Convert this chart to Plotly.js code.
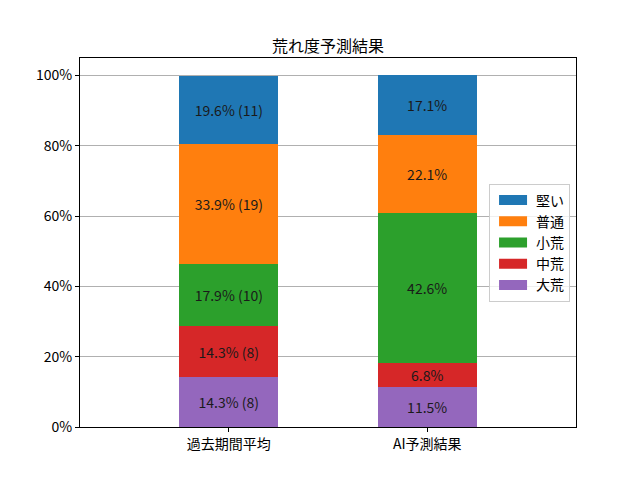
<!DOCTYPE html>
<html><head><meta charset="utf-8">
<script src="https://cdn.plot.ly/plotly-3.0.1.min.js"></script>
<style>body{margin:0;}#c{width:640px;height:480px;}</style>
</head><body><div id="c"></div>
<script>
const categories = ["過去期間平均", "AI予測結果"];
const classes = ["大荒", "中荒", "小荒", "普通", "堅い"];
const pct_taisa = [14.3, 11.5];
const pct_chu = [14.3, 6.8];
const pct_sho = [17.9, 42.6];
const pct_futsu = [33.9, 22.1];
const pct_katai = [19.6, 17.1];
const cnt_taisa = [8, null];
const cnt_chu = [8, null];
const cnt_sho = [10, null];
const cnt_futsu = [19, null];
const cnt_katai = [11, null];
const colors = ["#9467bd", "#d62728", "#2ca02c", "#ff7f0e", "#1f77b4"];

const pcts = [pct_taisa, pct_chu, pct_sho, pct_futsu, pct_katai];
const cnts = [cnt_taisa, cnt_chu, cnt_sho, cnt_futsu, cnt_katai];
const font = "'Noto Sans CJK JP', 'DejaVu Sans', sans-serif";

const traces = classes.map((name, i) => ({
  type: "bar",
  name: name,
  x: [0, 1],
  y: pcts[i].map(v => v / 100),
  width: 0.5,
  marker: {color: colors[i], line: {width: 0}},
  text: pcts[i].map((v, j) => v.toFixed(1) + "%" + (cnts[i][j] != null ? " (" + cnts[i][j] + ")" : "")),
  textposition: "inside",
  insidetextanchor: "middle",
  textangle: 0,
  textfont: {color: "#1a1a1a", size: 14, family: font},
  constraintext: "none",
  hoverinfo: "none"
}));

const layout = {
  width: 640, height: 480,
  margin: {l: 80, r: 64, t: 58, b: 53},
  paper_bgcolor: "#fff", plot_bgcolor: "#fff",
  barmode: "stack",
  font: {family: font, size: 14, color: "#000"},
  title: {text: "荒れ度予測結果", x: 0.5, xref: "paper", y: 1, yref: "paper", yanchor: "bottom", pad: {b: 6}, font: {size: 16, family: font, color: "#000"}},
  xaxis: {
    range: [-0.75, 1.75], tickvals: [0, 1], ticktext: categories,
    ticks: "outside", ticklen: 4, tickcolor: "#000",
    showline: true, mirror: true, linecolor: "#000", linewidth: 1,
    showgrid: false, zeroline: false, fixedrange: true,
    tickfont: {size: 14, family: font}
  },
  yaxis: {
    range: [0, 1.05], tickvals: [0, 0.2, 0.4, 0.6, 0.8, 1.0], tickformat: ".0%",
    ticks: "outside", ticklen: 4, tickcolor: "#000",
    showline: true, mirror: true, linecolor: "#000", linewidth: 1,
    showgrid: true, gridcolor: "#b0b0b0", gridwidth: 1, zeroline: false,
    tickfont: {size: 14, family: font}
  },
  legend: {
    x: 0.988, xanchor: "right", y: 0.5, yanchor: "middle",
    traceorder: "reversed", bgcolor: "rgba(255,255,255,0.8)",
    bordercolor: "#ccc", borderwidth: 1, font: {size: 14, family: font},
    itemwidth: 36, tracegroupgap: 0
  },
  showlegend: true
};

Plotly.newPlot("c", traces, layout, {displayModeBar: false, staticPlot: true}).then(gd => {
  document.querySelectorAll(".legend .legendpoints path").forEach(p => {
    p.setAttribute("d", "M-14,-5h28v10h-28z");
  });
});
</script>
</body></html>
